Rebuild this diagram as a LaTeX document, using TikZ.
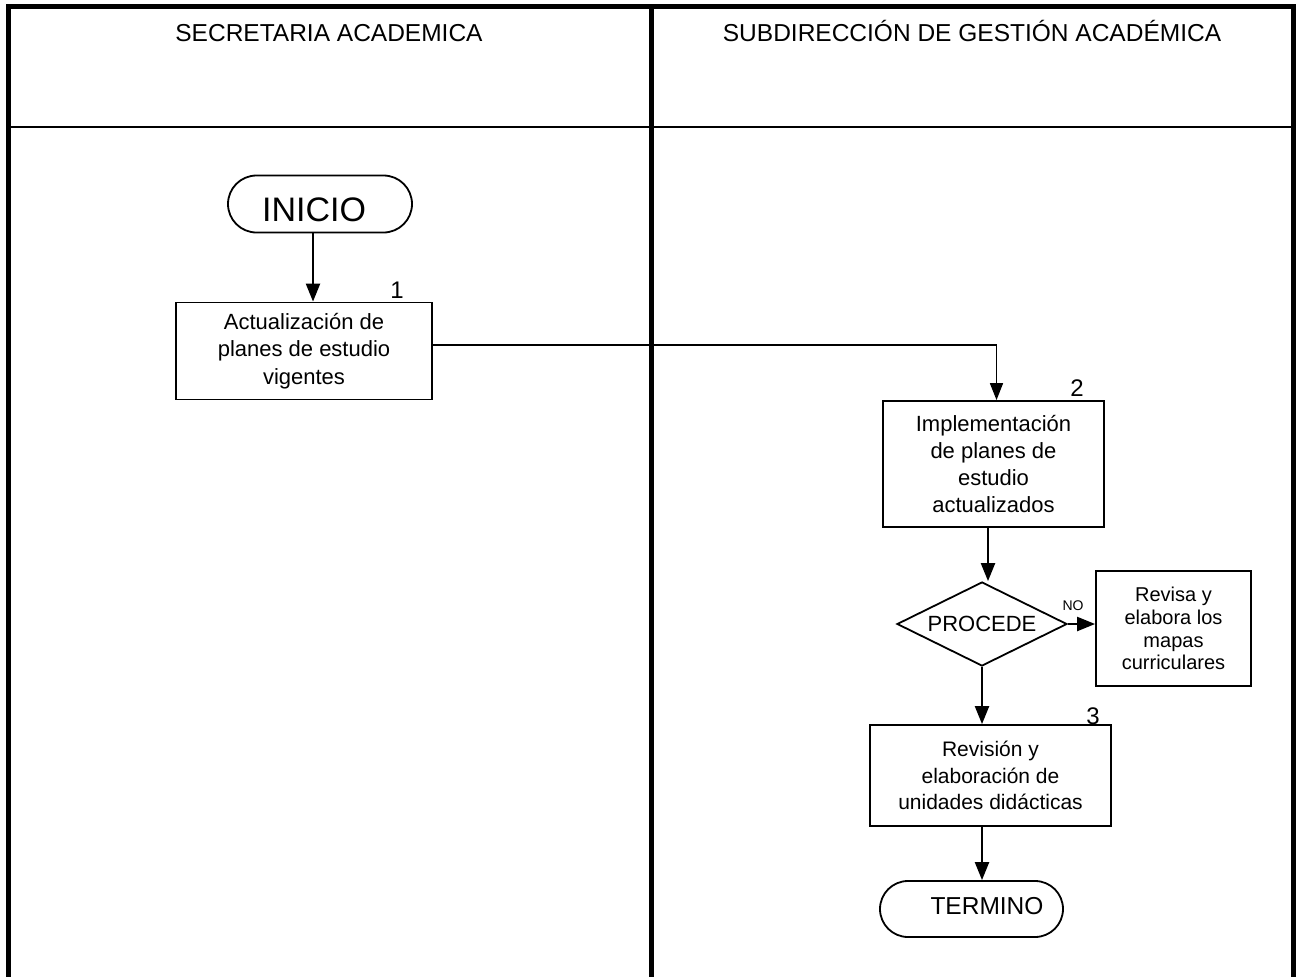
\documentclass[tikz,border=0pt]{standalone}
\usepackage{fontspec}
\setmainfont{Liberation Sans}
\usetikzlibrary{arrows.meta,shapes.geometric,shapes.misc,calc}
\tikzset{
  frameline/.style={line width=5pt},
  sepline/.style={line width=2pt},
  procbox/.style={draw, line width=1.8pt, rectangle, align=center, inner sep=0pt},
  termbox/.style={draw, line width=1.8pt, rounded rectangle, inner sep=0pt},
  decbox/.style={draw, line width=1.8pt, diamond, inner sep=0pt},
  arr/.style={line width=2.2pt, -{Triangle[width=14pt,length=18pt]}},
  thinarr/.style={line width=1.6pt, -{Triangle[width=13pt,length=17pt]}},
  hdr/.style={font=\fontsize{24.5}{29}\selectfont, inner sep=0pt, anchor=base},
  numlbl/.style={font=\fontsize{24}{28}\selectfont, inner sep=0pt},
}
\begin{document}
\begin{tikzpicture}[x=1pt,y=-1pt]
\useasboundingbox (0,0) rectangle (1296,977);
% lane frame
\draw[frameline] (8.5,4) -- (8.5,977);
\draw[frameline] (6,6.5) -- (1296,6.5);
\draw[frameline] (1293.5,4) -- (1293.5,977);
\draw[frameline] (651.5,4) -- (651.5,977);
\draw[sepline] (8,127) -- (1294,127);
% headers
\node[hdr] (h1) at (329,41) {SECRETARIA ACADEMICA};
\node[hdr] (h2) at (972,41) {SUBDIRECCIÓN DE GESTIÓN ACADÉMICA};
% nodes
\node[termbox, minimum width=184pt, minimum height=57pt] (inicio) at (320,204) {};
\node[inner sep=0pt, font=\fontsize{34}{38}\selectfont] (inicioT) at (314,210) {INICIO};
\node[numlbl] (n1) at (397,290) {1};
\node[procbox, minimum width=256pt, minimum height=97pt, font=\fontsize{22}{27.5}\selectfont] (b1) at (304,351) {Actualización de\\planes de estudio\\vigentes};
\node[numlbl] (n2) at (1077,388) {2};
\node[procbox, minimum width=221pt, minimum height=126pt, font=\fontsize{22}{27}\selectfont] (b2) at (993.5,464) {Implementación\\de planes de\\estudio\\actualizados};
\node[decbox, minimum width=170pt, minimum height=84pt, aspect=2] (dec) at (982,624) {};
\node[inner sep=0pt, font=\fontsize{22}{26}\selectfont] (decT) at (982,624) {PROCEDE};
\node[inner sep=0pt, font=\fontsize{14}{16}\selectfont] (no) at (1073,606) {NO};
\node[procbox, minimum width=155pt, minimum height=115pt, font=\fontsize{20}{22.7}\selectfont] (rev) at (1173.5,628.5) {Revisa y\\elabora los\\mapas\\curriculares};
\node[numlbl] (n3) at (1093,716) {3};
\node[procbox, minimum width=241pt, minimum height=101pt, font=\fontsize{21}{26.5}\selectfont] (b3) at (990.5,775.5) {Revisión y\\elaboración de\\unidades didácticas};
\node[termbox, minimum width=183pt, minimum height=56pt] (term) at (971.5,909) {};
\node[inner sep=0pt, font=\fontsize{24.5}{28}\selectfont] (termT) at (987,906) {TERMINO};
% connectors
\draw[arr] ([xshift=-7pt]inicio.south) -- ([xshift=9pt]b1.north);
\draw[thinarr] ([yshift=6pt]b1.east) -| ([xshift=3pt]b2.north);
\draw[arr] ([xshift=-5.5pt]b2.south) -- ([xshift=6pt]dec.north);
\draw[arr] (dec.east) -- (rev.west |- dec.east);
\draw[arr] (dec.south) -- (b3.north -| dec.south);
\draw[arr] (b3.south -| dec.south) -- (term.north -| dec.south);
\end{tikzpicture}
\end{document}
